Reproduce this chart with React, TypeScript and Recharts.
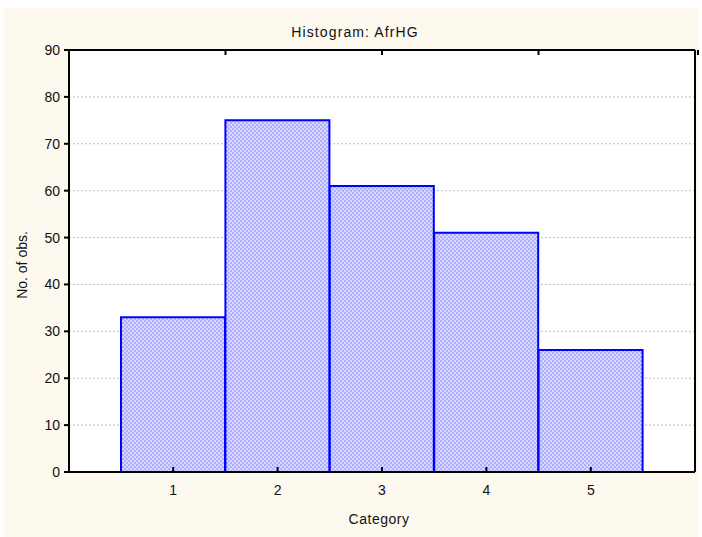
import { Bar, BarChart, CartesianGrid, XAxis, YAxis } from "recharts";

// Histogram data
const CATEGORIES = ["1", "2", "3", "4", "5"];
const COUNTS = [33, 75, 61, 51, 26];
const Y_TICKS = [0, 10, 20, 30, 40, 50, 60, 70, 80, 90];
const GRID_VALUES = [10, 20, 30, 40, 50, 60, 70, 80];
const EDGE_TICKS = [0, 1, 2, 3, 4, 5, 6];

const DATA = CATEGORIES.map((c, i) => ({ category: c, count: COUNTS[i] }));

const FONT = "'Liberation Sans', Arial, sans-serif";
const CREAM = "#FDF9EE";

// inward ticks for bottom/top axes, label only on bottom
function makeXTick(dir: 1 | -1, showLabel: boolean, axisY: number) {
  return (props: any) => {
    const { x, payload } = props;
    return (
      <g>
        <line x1={x} x2={x} y1={axisY} y2={axisY - dir * 5} stroke="#000" strokeWidth={2} />
        {showLabel && (
          <text x={x} y={axisY + 23} textAnchor="middle" fontSize={14} fontFamily={FONT} fill="#111">
            {payload.value}
          </text>
        )}
      </g>
    );
  };
}

function LeftTick(props: any) {
  const { y, payload } = props;
  return (
    <g>
      <line x1={64} x2={69} y1={y} y2={y} stroke="#000" strokeWidth={2} />
      <text x={60} y={y + 5} textAnchor="end" fontSize={14} fontFamily={FONT} fill="#111">
        {payload.value}
      </text>
    </g>
  );
}

function RightTick(props: any) {
  const { y } = props;
  return <line x1={695} x2={690} y1={y} y2={y} stroke="#000" strokeWidth={2} />;
}

const labelStyle = {
  position: "absolute" as const,
  fontFamily: FONT,
  fontSize: 14,
  color: "#111",
  whiteSpace: "nowrap" as const,
};

export default function App() {
  return (
    <div style={{ position: "absolute", left: 0, top: 0, width: 702, height: 537, background: "#fff" }}>
      <svg width={0} height={0} style={{ position: "absolute" }}>
        <defs>
          <pattern id="hatch" width={4} height={4} patternUnits="userSpaceOnUse">
            <rect width={4} height={4} fill="#D8D8FF" />
            <rect width={2} height={2} fill="#AEAEFF" />
            <rect x={2} y={2} width={2} height={2} fill="#AEAEFF" />
          </pattern>
        </defs>
      </svg>
      <div style={{ position: "absolute", left: 4, top: 8, width: 695, height: 529, background: CREAM }} />
      <div style={{ ...labelStyle, left: 355, top: 24, transform: "translateX(-50%)", letterSpacing: 1.1 }}>
        Histogram: AfrHG
      </div>
      <div style={{ ...labelStyle, left: 379, top: 511, transform: "translateX(-50%)", letterSpacing: 0.5 }}>
        Category
      </div>
      <div style={{ ...labelStyle, left: 22, top: 265, transform: "translate(-50%, -50%) rotate(-90deg)" }}>
        No. of obs.
      </div>
      <div style={{ position: "absolute", left: 0, top: 0 }}>
        <BarChart
          width={702}
          height={537}
          data={DATA}
          margin={{ top: 49, right: 6, bottom: 0, left: 0 }}
          barCategoryGap={0}
        >
          <CartesianGrid
            xAxisId="cat"
            yAxisId="left"
            horizontal
            vertical={false}
            stroke="#BDBDBD"
            strokeDasharray="2 2"
            horizontalValues={GRID_VALUES}
            fill="#fff"
          />
          <XAxis
            xAxisId="cat"
            dataKey="category"
            padding={{ left: 52, right: 52 }}
            axisLine={{ stroke: "#000", strokeWidth: 2 }}
            tickLine={false}
            tick={makeXTick(1, true, 472)}
            interval={0}
            height={65}
          />
          <XAxis
            xAxisId="top"
            orientation="top"
            type="number"
            domain={[0, 6]}
            ticks={EDGE_TICKS}
            axisLine={{ stroke: "#000", strokeWidth: 2 }}
            tickLine={false}
            tick={makeXTick(-1, false, 50)}
            height={1}
          />
          <YAxis
            yAxisId="left"
            domain={[0, 90]}
            ticks={Y_TICKS}
            width={69}
            axisLine={{ stroke: "#000", strokeWidth: 2 }}
            tickLine={false}
            tick={<LeftTick />}
            interval={0}
          />
          <YAxis
            yAxisId="right"
            orientation="right"
            domain={[0, 90]}
            ticks={Y_TICKS}
            width={1}
            axisLine={{ stroke: "#000", strokeWidth: 2 }}
            tickLine={false}
            tick={<RightTick />}
            interval={0}
          />
          <Bar
            xAxisId="cat"
            yAxisId="left"
            dataKey="count"
            fill="url(#hatch)"
            stroke="#0000FF"
            strokeWidth={2}
            isAnimationActive={false}
          />
        </BarChart>
      </div>
    </div>
  );
}
